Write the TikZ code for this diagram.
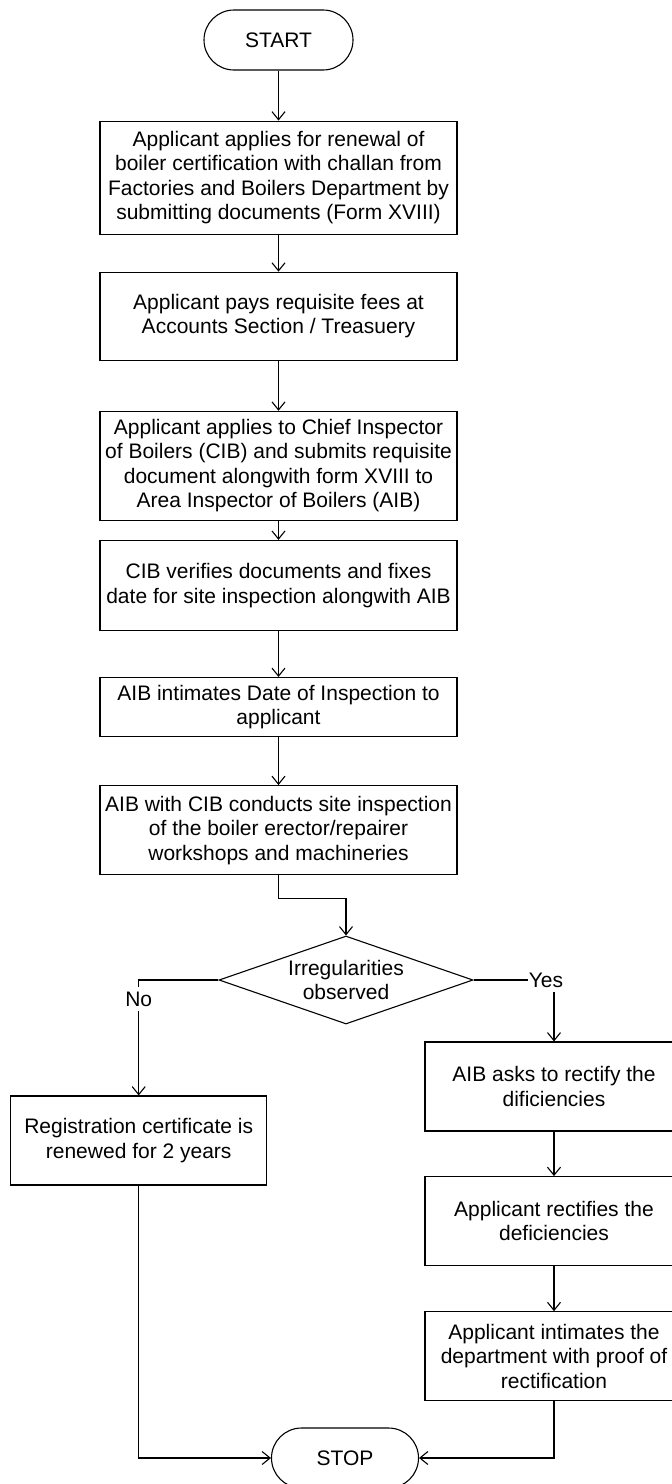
\documentclass[tikz,border=0pt]{standalone}
\usepackage{fontspec}
\setmainfont{Liberation Sans}
\usetikzlibrary{positioning,shapes.geometric,arrows.meta,calc}
\tikzset{
    stepbox/.style={
        rectangle,
        draw,
        line width=1.1pt,
        align=center,
        inner sep=2pt,
        font=\fontsize{21}{24.5}\selectfont
    },
    mainbox/.style={stepbox, minimum width=357pt},
    sidebox/.style={stepbox, minimum width=258pt, minimum height=89pt},
    terminal/.style={
        rectangle,
        rounded corners=30pt,
        draw,
        line width=1.1pt,
        minimum height=60pt,
        font=\fontsize{21}{24.5}\selectfont
    },
    decision/.style={
        diamond,
        draw,
        line width=1.1pt,
        aspect=2.886,
        inner sep=0pt,
        minimum width=254pt,
        minimum height=88pt,
        align=center,
        font=\fontsize{21}{24.5}\selectfont
    },
    branchlabel/.style={
        fill=white,
        inner xsep=1pt,
        inner ysep=5pt,
        font=\fontsize{21}{24.5}\selectfont
    },
    ptr/.style={
        -{Straight Barb[length=8pt,width=13pt]},
        line width=1.1pt
    }
}
\begin{document}
\begin{tikzpicture}[x=1pt, y=1pt]
    \clip (0,0) rectangle (672,-1484);

    % Main column
    \node[terminal, minimum width=149pt] (start) at (278.5,-40) {START};
    \node[mainbox, minimum height=113pt, below=50pt of start] (apply)
        {Applicant applies for renewal of\\boiler certification with challan from\\Factories and Boilers Department by\\submitting documents (Form XVIII)};
    \node[mainbox, minimum height=88pt, below=37pt of apply] (fees)
        {Applicant pays requisite fees at\\Accounts Section / Treasuery};
    \node[mainbox, minimum height=109pt, below=50pt of fees] (submit)
        {Applicant applies to Chief Inspector\\of Boilers (CIB) and submits requisite\\document alongwith form XVIII to\\Area Inspector of Boilers (AIB)};
    \node[mainbox, minimum height=90pt, below=19pt of submit] (verify)
        {CIB verifies documents and fixes\\date for site inspection alongwith AIB};
    \node[mainbox, minimum height=59pt, below=46pt of verify] (intimate)
        {AIB intimates Date of Inspection to\\applicant};
    \node[mainbox, minimum height=89pt, below=48pt of intimate] (inspect)
        {AIB with CIB conducts site inspection\\of the boiler erector/repairer\\workshops and machineries};

    % Decision and branches
    \node[decision] (check) at (346,-980) {Irregularities\\observed};
    \node[sidebox, minimum width=256pt] (renew) at (138.7,-1140.5)
        {Registration certificate is\\renewed for 2 years};
    \node[sidebox] (ask) at (554,-1086.5)
        {AIB asks to rectify the\\dificiencies};
    \node[sidebox, below=44.5pt of ask] (fix)
        {Applicant rectifies the\\deficiencies};
    \node[sidebox, below=45pt of fix] (notify)
        {Applicant intimates the\\department with proof of\\rectification};
    \node[terminal, minimum width=147pt] (stop) at (345,-1458) {STOP};

    % Connectors
    \draw[ptr] (start) -- (apply);
    \draw[ptr] (apply) -- (fees);
    \draw[ptr] (fees) -- (submit);
    \draw[ptr] (submit) -- (verify);
    \draw[ptr] (verify) -- (intimate);
    \draw[ptr] (intimate) -- (inspect);
    \draw[ptr] (inspect.south) -- ++(0,-23) -| (check.north);

    \draw[ptr] (check.west) -| node[branchlabel, pos=0.582] {No} (renew.north);
    \draw[ptr] (check.east) -| node[branchlabel, pos=0.5, xshift=-8pt] {Yes} (ask.north);

    \draw[ptr] (ask) -- (fix);
    \draw[ptr] (fix) -- (notify);
    \draw[ptr] (renew.south) |- (stop.west);
    \draw[ptr] (notify.south) |- (stop.east);
\end{tikzpicture}
\end{document}
